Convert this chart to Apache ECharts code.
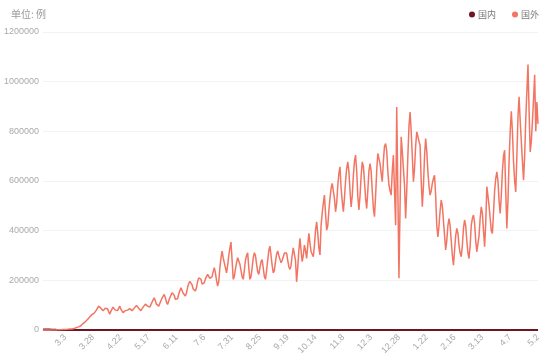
<!DOCTYPE html>
<html>
<head>
<meta charset="utf-8">
<script src="https://cdn.jsdelivr.net/npm/echarts/dist/echarts.min.js"></script>
<style>html,body{margin:0;padding:0;background:#fff;}#c{width:550px;height:358px;}</style>
</head>
<body>
<div id="c"></div>
<script>
// Series names
var seriesNames = ['国内', '国外'];
// Y-axis tick values
var yTicks = [0, 200000, 400000, 600000, 800000, 1000000, 1200000];
// Daily categories start date (2020-02-12), one per day
var startDate = [2020, 1, 12];
var dayCount = 446;

// 国内 daily new cases
var domestic = [
2015,1820,1560,2009,2048,1886,1749,820,889,397,
648,409,508,406,433,327,427,573,202,125,
119,139,143,99,44,40,19,24,15,8,
11,20,16,21,39,41,46,45,39,78,
47,67,54,55,45,54,45,31,48,36,
35,31,30,39,32,62,63,46,99,108,
89,46,35,27,16,
12,16,11,10,6,5,11,30,11,6,22,12,3,4,2,3,1,2,2,4,1,1,1,2,7,14,1,3,5,8,4,2,1,2,3,
2,11,7,1,2,1,3,2,4,1,2,5,7,6,3,5,5,2,3,8,7,11,6,40,49,27,28,32,31,25,
22,13,7,11,17,21,12,19,14,3,5,4,8,7,3,7,6,7,10,8,13,8,7,8,22,17,17,9,11,18,22,14,34,61,68,127,101,105,112,127,
45,49,36,36,30,37,33,28,22,37,19,25,24,22,19,13,14,17,22,21,19,22,20,14,12,13,21,15,9,15,17,9,10,10,11,15,9,7,11,10,12,10,6,8,10,8,17,14,20,13,
14,10,9,12,14,18,20,19,21,12,19,13,18,15,16,15,19,13,14,16,21,30,18,9,10,20,22,23,16,13,21,24,24,22,33,27,25,28,13,18,20,24,27,33,22,17,18,16,15,17,
16,21,14,15,16,18,22,17,14,17,20,11,16,15,13,21,25,12,18,17,12,20,15,14,19,15,18,8,11,20,14,22,17,10,14,15,23,12,16,15,24,15,23,15,12,19,21,22,20,25,
19,18,24,25,33,33,33,17,32,63,53,90,101,138,115,130,103,144,117,109,88,118,103,79,80,92,107,54,75,53,30,36,33,42,30,25,27,15,14,17,12,16,11,9,14,7,10,14,8,11,
11,10,8,7,8,9,8,11,7,10,13,9,10,10,8,11,9,14,12,10,8,11,6,7,11,9,13,6,10,7,11,11,7,17,13,20,15,10,14,10,8,10,13,14,15,20,25,32,20,11,
13,15,14,10,8,12,16,15,19,11,18,20,17,12,17,14,19,13,10,20,11,16,12,17,8,11
];

// 国外 daily new cases
var foreign = [
60,50,70,80,70,90,100,150,200,300,
400,500,600,800,1000,1200,1400,1700,1900,2100,
2300,2600,3000,3500,4000,4500,4200,4300,6000,7500,
9500,11000,12500,15000,17000,22000,26000,30000,33000,40000,
42000,44000,52000,58000,62000,64000,68000,62000,80000,86000,
96000,92000,88000,82000,78000,84000,88000,90000,86000,74000,
64000,75000,82000,92000,86000,80000,72000,78000,86000,96000,
84000,76000,70000,72000,78000,76000,80000,82000,86000,84000,
78000,82000,88000,94000,99000,94000,88000,82000,78000,86000,
92000,98000,104000,110000,96000,90000,92000,100000,112000,118000,
130000,118000,104000,98000,96000,100000,118000,128000,136000,143000,
130000,112000,103000,110000,130000,140000,150000,157000,140000,124000,
117000,126000,145000,158000,170000,162000,148000,140000,137000,150000,
172000,186000,196000,204000,182000,165000,158000,157000,172000,195000,
210000,217000,205000,185000,177000,190000,205000,215000,224000,218000,
208000,204000,215000,235000,251000,230000,200000,177000,195000,250000,
290000,318000,290000,270000,250000,230000,260000,300000,330000,354000,
280000,204000,215000,245000,270000,291000,285000,265000,240000,215000,
204000,240000,280000,300000,311000,250000,204000,215000,250000,290000,
311000,300000,265000,235000,224000,250000,275000,284000,250000,215000,
204000,240000,280000,320000,338000,300000,260000,230000,240000,275000,
305000,318000,300000,285000,271000,280000,295000,310000,318000,310000,
280000,255000,244000,260000,300000,331000,335000,280000,194000,250000,
320000,369000,320000,275000,300000,342000,320000,288000,340000,389000,
350000,315000,305000,295000,340000,400000,436000,390000,330000,302000,
422000,470000,510000,543000,470000,402000,420000,480000,530000,570000,
590000,597000,530000,476000,510000,580000,630000,657000,570000,520000,
476000,530000,600000,650000,677000,640000,560000,496000,540000,620000,
680000,704000,640000,540000,483000,540000,620000,677000,660000,600000,
530000,489000,560000,640000,670000,640000,560000,490000,456000,540000,
640000,711000,690000,670000,630000,597000,680000,740000,751000,720000,
640000,583000,560000,543000,640000,704000,560000,422000,898000,560000,
208000,500000,778000,720000,650000,583000,449000,560000,700000,820000,
878000,800000,700000,597000,650000,740000,798000,780000,760000,744000,
600000,496000,580000,700000,771000,720000,640000,580000,543000,560000,
590000,610000,623000,540000,420000,375000,420000,480000,523000,500000,
440000,380000,322000,360000,420000,449000,420000,360000,300000,261000,
320000,380000,409000,390000,340000,310000,295000,340000,410000,443000,
420000,360000,310000,288000,340000,420000,450000,463000,430000,360000,
315000,308000,380000,450000,496000,470000,400000,335000,430000,577000,
540000,500000,450000,400000,389000,470000,560000,610000,637000,600000,
520000,469000,540000,640000,700000,724000,560000,409000,520000,680000,
800000,881000,800000,680000,600000,556000,700000,860000,939000,840000,
760000,680000,603000,700000,850000,960000,1069000,880000,717000,760000,
840000,930000,1028000,800000,918000,830000
];

// Category labels (M.D), one per day
var categories = [];
for (var i = 0; i < dayCount; i++) {
  var d = new Date(Date.UTC(startDate[0], startDate[1], startDate[2]) + i * 86400000);
  categories.push((d.getUTCMonth() + 1) + '.' + d.getUTCDate());
}
var lastIdx = categories.length - 1;

var chart = echarts.init(document.getElementById('c'), null, {renderer: 'canvas'});
chart.setOption({
  animation: false,
  backgroundColor: '#fff',
  title: {
    text: '单位: 例', left: 6, top: 4,
    textStyle: {fontSize: 10, color: '#999', fontWeight: 'normal', fontFamily: 'Noto Sans CJK SC'}
  },
  legend: {
    data: seriesNames, right: 6, top: 5, icon: 'circle', itemWidth: 6, itemHeight: 6, itemGap: 16,
    textStyle: {fontSize: 9, color: '#777', fontFamily: 'Noto Sans CJK SC', padding: [0, 0, 0, -2]}
  },
  grid: {left: 43, right: 12, top: 32, bottom: 28, containLabel: false},
  xAxis: {
    type: 'category', boundaryGap: false, data: categories,
    axisLine: {show: true, lineStyle: {color: '#ddd'}},
    axisTick: {show: false},
    axisLabel: {
      rotate: 45, fontSize: 9, color: '#aaa', margin: 6,
      interval: function (idx) { return (lastIdx - idx) % 25 === 0; }
    }
  },
  yAxis: {
    type: 'value', min: yTicks[0], max: yTicks[yTicks.length - 1], interval: yTicks[1] - yTicks[0],
    axisLine: {show: false}, axisTick: {show: false},
    axisLabel: {fontSize: 9, color: '#aaa', margin: 4, formatter: function (v) { return String(v); }},
    splitLine: {lineStyle: {color: '#f2f2f2'}}
  },
  series: [
    {name: seriesNames[0], type: 'line', data: domestic, showSymbol: false, symbol: 'none',
     itemStyle: {color: '#6e1423'}, lineStyle: {width: 2, color: '#6e1423'}},
    {name: seriesNames[1], type: 'line', data: foreign, showSymbol: false, symbol: 'none',
     itemStyle: {color: '#f27563'}, lineStyle: {width: 1.5, color: '#f27563'}}
  ]
});
</script>
</body>
</html>
